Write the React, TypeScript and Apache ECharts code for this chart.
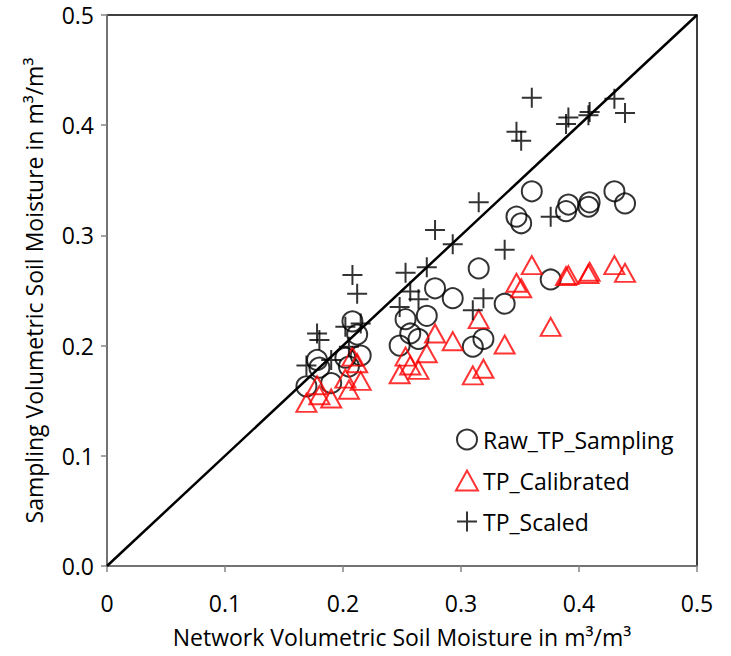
import React, { useEffect, useRef } from "react";
import * as echarts from "echarts";

const networkX = [
  0.169, 0.178, 0.18, 0.19, 0.202, 0.205, 0.208, 0.212, 0.215, 0.248, 0.253, 0.257, 0.264, 0.271, 0.278,
  0.293, 0.31, 0.315, 0.319, 0.337, 0.347, 0.351, 0.36, 0.376, 0.389, 0.391, 0.408, 0.409, 0.43, 0.439,
];
const rawTP = [
  0.163, 0.187, 0.18, 0.166, 0.189, 0.181, 0.222, 0.21, 0.191, 0.2, 0.224, 0.211, 0.206, 0.227, 0.252,
  0.243, 0.199, 0.27, 0.206, 0.238, 0.317, 0.311, 0.34, 0.26, 0.322, 0.328, 0.326, 0.33, 0.34, 0.329,
];
const calTP = [
  0.148, 0.164, 0.155, 0.152, 0.17, 0.16, 0.19, 0.184, 0.168, 0.174, 0.19, 0.182, 0.178, 0.193, 0.211,
  0.204, 0.173, 0.224, 0.179, 0.201, 0.257, 0.252, 0.273, 0.217, 0.263, 0.264, 0.265, 0.267, 0.273, 0.266,
];
const scaledTP = [
  0.182, 0.211, 0.205, 0.187, 0.217, 0.199, 0.264, 0.247, 0.22, 0.235, 0.266, 0.249, 0.242, 0.271, 0.305,
  0.292, 0.232, 0.33, 0.243, 0.287, 0.394, 0.386, 0.425, 0.317, 0.401, 0.407, 0.409, 0.412, 0.424, 0.411,
];
const oneToOne = [
  [0, 0],
  [0.5, 0.5],
];
const xTickLabels = ["0", "0.1", "0.2", "0.3", "0.4", "0.5"];
const yTickLabels = ["0.0", "0.1", "0.2", "0.3", "0.4", "0.5"];
const seriesNames = ["Raw_TP_Sampling", "TP_Calibrated", "TP_Scaled"];

const FONT = "Open Sans";
const PLUS = "path://M9,0H11V9H20V11H11V20H9V11H0V9H9Z";

export default function App() {
  const ref = useRef<HTMLDivElement>(null);
  useEffect(() => {
    if (!ref.current) return;
    const chart = echarts.init(ref.current, null, { renderer: "svg" });
    const pair = (ys: number[]) => networkX.map((x, i) => [x, ys[i]]);
    chart.setOption({
      animation: false,
      backgroundColor: "#fff",
      grid: {
        left: 107,
        top: 15,
        right: 34,
        bottom: 90,
        show: true,
        borderColor: "#000",
        borderWidth: 1.5,
      },
      xAxis: {
        type: "value",
        min: 0,
        max: 0.5,
        interval: 0.1,
        name: "Network Volumetric Soil Moisture in m³/m³",
        nameLocation: "middle",
        nameGap: 59,
        nameTextStyle: { fontFamily: FONT, fontSize: 23, color: "#000" },
        axisLine: { show: true, lineStyle: { color: "#868686", width: 1.5 } },
        axisTick: { show: true, length: 6, inside: false, lineStyle: { color: "#868686", width: 1.5 } },
        axisLabel: {
          margin: 25,
          fontFamily: FONT,
          fontSize: 23,
          color: "#000",
          formatter: (_v: number, i: number) => xTickLabels[i],
        },
        splitLine: { show: false },
      },
      yAxis: {
        type: "value",
        min: 0,
        max: 0.5,
        interval: 0.1,
        name: "Sampling Volumetric Soil Moisture in m³/m³",
        nameLocation: "middle",
        nameGap: 62,
        nameRotate: 90,
        nameTextStyle: { fontFamily: FONT, fontSize: 23, color: "#000" },
        axisLine: { show: true, lineStyle: { color: "#868686", width: 1.5 } },
        axisTick: { show: true, length: 6, inside: false, lineStyle: { color: "#868686", width: 1.5 } },
        axisLabel: {
          margin: 13,
          fontFamily: FONT,
          fontSize: 23,
          color: "#000",
          formatter: (_v: number, i: number) => yTickLabels[i],
        },
        splitLine: { show: false },
      },
      legend: {
        data: seriesNames,
        orient: "vertical",
        left: 450,
        top: 423,
        itemWidth: 22,
        itemHeight: 20,
        itemGap: 18,
        textStyle: { fontFamily: FONT, fontSize: 23, color: "#000" },
      },
      series: [
        {
          type: "line",
          data: oneToOne,
          symbol: "none",
          lineStyle: { color: "#000", width: 2.5 },
          z: 1,
          silent: true,
        },
        {
          name: seriesNames[0],
          type: "scatter",
          data: pair(rawTP),
          symbol: "circle",
          symbolSize: 20,
          itemStyle: { color: "rgba(0,0,0,0)", borderColor: "#000", borderWidth: 2 },
          z: 3,
        },
        {
          name: seriesNames[1],
          type: "scatter",
          data: pair(calTP),
          symbol: "triangle",
          symbolSize: [20, 18],
          itemStyle: { color: "rgba(0,0,0,0)", borderColor: "#ff0000", borderWidth: 2 },
          z: 3,
        },
        {
          name: seriesNames[2],
          type: "scatter",
          data: pair(scaledTP),
          symbol: PLUS,
          symbolSize: 20,
          itemStyle: { color: "#000" },
          z: 3,
        },
      ],
    });
    return () => chart.dispose();
  }, []);
  return <div ref={ref} style={{ position: "fixed", left: 0, top: 0, width: 731, height: 656 }} />;
}
